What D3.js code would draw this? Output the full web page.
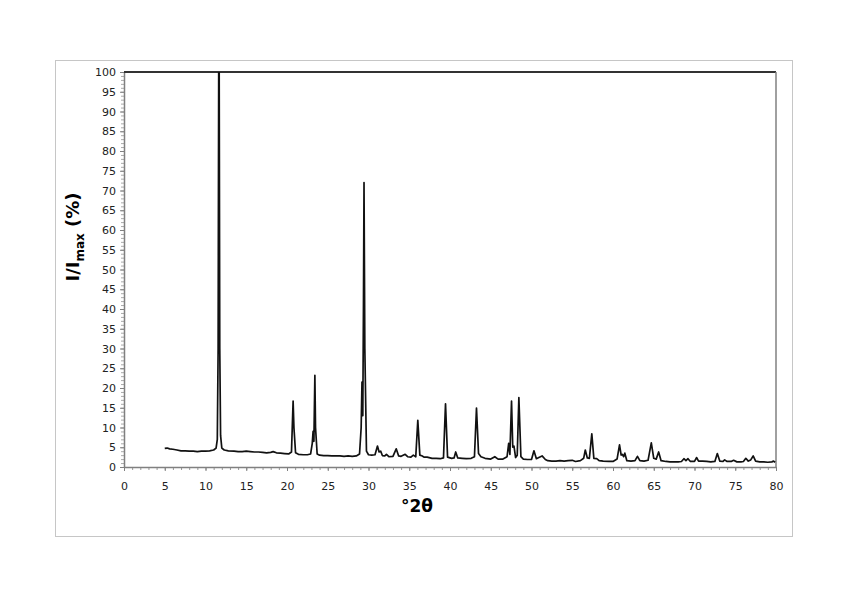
<!DOCTYPE html>
<html>
<head>
<meta charset="utf-8">
<script src="https://cdn.jsdelivr.net/npm/d3@7"></script>
<style>
  body { margin: 0; background: #fff; }
  text { font-family: "DejaVu Sans", Verdana, sans-serif; }
</style>
</head>
<body>
<div id="chart"></div>
<script>
// XRD pattern: 2theta (deg) and I/Imax (%)
var twoTheta = [5.0, 5.3, 5.6, 6.0, 6.5, 7.0, 7.5, 8.0, 8.5, 9.0, 9.5, 10.0, 10.5, 11.0, 11.3, 11.45, 11.55, 11.62, 11.68, 11.75, 11.85, 12.0, 12.3, 12.8, 13.5, 14.0, 14.5, 15.0, 15.5, 16.0, 16.5, 17.0, 17.5, 18.0, 18.3, 18.7, 19.2, 19.7, 20.2, 20.55, 20.75, 20.85, 21.05, 21.4, 22.0, 22.5, 22.9, 23.1, 23.2, 23.3, 23.42, 23.5, 23.7, 24.0, 24.5, 25.0, 25.5, 26.0, 26.5, 27.0, 27.5, 28.0, 28.5, 28.9, 29.1, 29.2, 29.3, 29.38, 29.45, 29.55, 29.75, 30.0, 30.4, 30.8, 31.1, 31.3, 31.5, 31.7, 32.0, 32.2, 32.5, 33.0, 33.4, 33.7, 34.0, 34.5, 34.8, 35.2, 35.5, 35.8, 36.05, 36.3, 36.6, 36.8, 37.2, 37.8, 38.3, 38.8, 39.2, 39.45, 39.7, 40.2, 40.5, 40.7, 40.95, 41.5, 42.0, 42.6, 43.0, 43.25, 43.5, 43.8, 44.3, 45.0, 45.5, 45.9, 46.5, 47.0, 47.2, 47.35, 47.55, 47.7, 47.85, 48.05, 48.25, 48.45, 48.7, 49.0,
  49.5, 50.0, 50.3, 50.6, 50.9, 51.3, 51.7, 52.0, 52.5, 53.0, 53.5, 54.0, 54.5, 55.0, 55.4, 56.0, 56.4, 56.6, 56.85, 57.1, 57.4, 57.65, 58.0, 58.3, 58.8, 59.5,
  60.0, 60.5, 60.8, 61.0, 61.15, 61.3, 61.45, 61.7, 62.2, 62.7, 63.0, 63.3, 63.8, 64.3, 64.7, 65.0, 65.3, 65.6, 65.9, 66.5, 67.0, 67.5, 68.0, 68.4, 68.7, 68.95, 69.2, 69.5,
  70.0, 70.25, 70.5, 71.0, 71.5, 72.0, 72.5, 72.8, 73.1, 73.5, 73.7, 74.0, 74.5, 74.8, 75.2, 75.7, 76.0, 76.3, 76.6, 76.9, 77.2, 77.5, 78.0, 78.5, 79.0, 79.5, 79.7, 79.9];
var intensity = [4.7, 4.8, 4.6, 4.5, 4.3, 4.1, 4.1, 4.0, 4.0, 3.9, 4.0, 4.0, 4.1, 4.3, 4.8, 7.0, 30.0, 100.0, 100.0, 30.0, 8.0, 4.8, 4.3, 4.1, 4.0, 3.9, 3.9, 4.0, 3.9, 3.8, 3.8, 3.7, 3.6, 3.7, 3.9, 3.6, 3.5, 3.4, 3.3, 3.8, 16.7, 10.0, 3.6, 3.2, 3.1, 3.1, 3.3, 6.0, 9.0, 6.5, 23.2, 10.0, 3.3, 3.0, 2.9, 2.9, 2.8, 2.8, 2.8, 2.7, 2.8, 2.7, 2.8, 3.3, 10.0, 21.5, 13.0, 40.0, 72.0, 30.0, 4.0, 3.1, 3.0, 3.1, 5.3, 3.8, 4.0, 2.9, 2.8, 3.2, 2.6, 2.7, 4.6, 2.8, 2.7, 3.2, 2.6, 2.5, 3.0, 2.6, 11.8, 3.0, 2.8, 2.5, 2.5, 2.2, 2.2, 2.1, 2.3, 16.0, 2.5, 2.2, 2.3, 3.8, 2.3, 2.2, 2.1, 2.2, 2.6, 14.9, 3.4, 2.6, 2.2, 2.0, 2.6, 2.0, 2.0, 2.6, 6.0, 3.2, 16.7, 5.0, 5.3, 2.4, 3.0, 17.6, 2.6, 2.0,
  1.9, 1.9, 4.1, 2.1, 2.4, 2.8, 1.9, 1.6, 1.5, 1.5, 1.6, 1.5, 1.6, 1.7, 1.4, 1.6, 2.2, 4.3, 2.3, 2.2, 8.4, 2.2, 2.1, 1.6, 1.5, 1.4,
  1.4, 2.0, 5.6, 3.0, 3.2, 2.6, 3.5, 1.6, 1.5, 1.6, 2.7, 1.6, 1.5, 1.7, 6.1, 2.2, 2.0, 3.8, 1.6, 1.4, 1.3, 1.3, 1.3, 1.4, 2.1, 1.6, 2.1, 1.4,
  1.4, 2.4, 1.5, 1.5, 1.4, 1.3, 1.4, 3.4, 1.5, 1.4, 1.8, 1.4, 1.4, 1.7, 1.3, 1.3, 1.4, 2.2, 1.5, 1.8, 2.8, 1.5, 1.3, 1.3, 1.2, 1.3, 1.5, 1.2];
var xTicks = [0, 5, 10, 15, 20, 25, 30, 35, 40, 45, 50, 55, 60, 65, 70, 75, 80];
var yTicks = [0, 5, 10, 15, 20, 25, 30, 35, 40, 45, 50, 55, 60, 65, 70, 75, 80, 85, 90, 95, 100];

var width = 848, height = 599;
var plot = { left: 124, right: 776, top: 72, bottom: 467 };

var svg = d3.select("#chart").append("svg")
  .attr("width", width)
  .attr("height", height);

// outer frame
svg.append("rect")
  .attr("x", 55.5).attr("y", 60.5)
  .attr("width", 737).attr("height", 476)
  .style("fill", "none")
  .style("stroke", "#c6c6c6")
  .style("stroke-width", 1);

var x = d3.scaleLinear().domain([0, 80]).range([plot.left, plot.right]);
var y = d3.scaleLinear().domain([0, 100]).range([plot.bottom, plot.top]);

svg.append("clipPath").attr("id", "clip")
  .append("rect")
  .attr("x", plot.left).attr("y", plot.top)
  .attr("width", plot.right - plot.left).attr("height", plot.bottom - plot.top);

// minor ticks
var minorX = d3.range(0, 81, 1), minorY = d3.range(0, 101, 1);
svg.append("g")
  .attr("transform", "translate(0," + plot.bottom + ")")
  .call(d3.axisBottom(x).tickValues(minorX).tickSize(3).tickFormat(""))
  .call(function(g) { g.select(".domain").remove(); })
  .selectAll("line").style("stroke", "#999");
svg.append("g")
  .attr("transform", "translate(" + plot.left + ",0)")
  .call(d3.axisLeft(y).tickValues(minorY).tickSize(3).tickFormat(""))
  .call(function(g) { g.select(".domain").remove(); })
  .selectAll("line").style("stroke", "#aaa");

// major axes
var xAxis = svg.append("g")
  .attr("transform", "translate(0," + plot.bottom + ")")
  .call(d3.axisBottom(x).tickValues(xTicks).tickSize(4).tickSizeOuter(0));
var yAxis = svg.append("g")
  .attr("transform", "translate(" + plot.left + ",0)")
  .call(d3.axisLeft(y).tickValues(yTicks).tickSize(4).tickSizeOuter(0));

[xAxis, yAxis].forEach(function(g) {
  g.select(".domain").style("stroke", "#808080").style("stroke-width", 1.5);
  g.selectAll(".tick line").style("stroke", "#808080");
  g.selectAll(".tick text")
    .style("font-size", "11px")
    .style("fill", "#222")
    .style("font-family", "'DejaVu Sans', Verdana, sans-serif");
});
xAxis.selectAll(".tick text").attr("dy", "0.71em").attr("y", 15);
yAxis.selectAll(".tick text").attr("x", -8);

// top and right border of plot area
svg.append("line")
  .attr("x1", plot.left).attr("x2", plot.right)
  .attr("y1", plot.top).attr("y2", plot.top)
  .style("stroke", "#333").style("stroke-width", 2);
svg.append("line")
  .attr("x1", plot.right).attr("x2", plot.right)
  .attr("y1", plot.top).attr("y2", plot.bottom)
  .style("stroke", "#808080").style("stroke-width", 1.5);

// pattern
var pts = twoTheta.map(function(t, i) { return [t, intensity[i]]; });
var line = d3.line()
  .x(function(d) { return x(d[0]); })
  .y(function(d) { return y(d[1]); });

svg.append("path")
  .datum(pts)
  .attr("clip-path", "url(#clip)")
  .attr("d", line)
  .style("fill", "none")
  .style("stroke", "#111")
  .style("stroke-width", 1.7)
  .style("stroke-linejoin", "round");

// axis titles
svg.append("text")
  .attr("x", 417).attr("y", 512)
  .style("text-anchor", "middle")
  .style("font-size", "17px")
  .style("font-weight", 700)
  .text("°2θ");

var yTitle = svg.append("text")
  .attr("transform", "translate(79,237) rotate(-90)")
  .style("text-anchor", "middle")
  .style("font-size", "18px")
  .style("font-weight", 700);
yTitle.append("tspan").text("I/I");
yTitle.append("tspan").attr("dy", 5).style("font-size", "12px").text("max");
yTitle.append("tspan").attr("dy", -5).text(" (%)");
</script>
</body>
</html>
